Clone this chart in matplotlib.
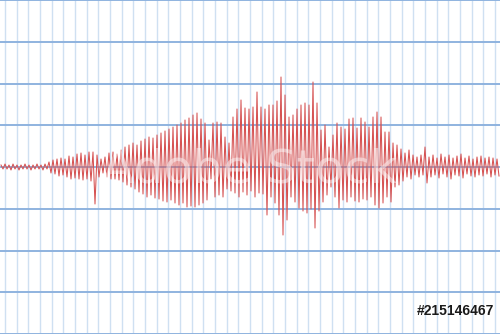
import numpy as np
import matplotlib
matplotlib.use('Agg')
import matplotlib.pyplot as plt

# upward swing of each cycle (pixel-ish amplitude above the baseline)
tops = [2, 3, 2, 3, 2, 2, 3, 2, 2, 3, 2, 3,
        5, 7, 8, 9, 8, 11, 10, 13, 14, 12, 15, 15, 12,
        8, 10, 14, 15, 13, 17, 20, 22, 24, 22, 26, 28, 30, 29, 32,
        34, 36, 38, 40, 42, 44, 47, 49, 52, 54, 48, 44, 27, 44, 45,
        44, 30, 24, 50, 58, 67, 59, 58, 60, 75, 60, 58, 62, 62, 66,
        90, 72, 50, 52, 58, 62, 64, 62, 85, 64, 37, 42, 20, 32, 44,
        40, 38, 48, 49, 39, 49, 45, 40, 50, 55, 50, 35, 35, 24, 22,
        18, 14, 17, 12, 10, 12, 20, 10, 12, 9, 13, 10, 12, 9, 11,
        13, 9, 11, 8, 10, 11, 9, 10, 9, 8]

# downward swing of each cycle
bottoms = [2, 2, 3, 2, 3, 2, 2, 3, 2, 2, 3, 2,
           6, 7, 9, 8, 10, 12, 11, 12, 13, 12, 14, 37, 10,
           6, 10, 12, 12, 13, 15, 18, 20, 22, 25, 27, 30, 28, 31, 32,
           34, 35, 33, 36, 38, 36, 40, 39, 40, 38, 36, 33, 12, 30, 28,
           30, 22, 24, 26, 30, 25, 28, 24, 30, 26, 27, 48, 30, 36, 48,
           68, 53, 30, 35, 41, 44, 46, 42, 61, 44, 35, 28, 20, 30, 41,
           33, 35, 30, 34, 35, 32, 33, 30, 38, 41, 36, 30, 35, 20, 18,
           14, 10, 12, 8, 10, 8, 16, 10, 8, 11, 7, 10, 12, 8, 9,
           11, 7, 9, 10, 8, 9, 7, 10, 8, 9]

signal = []
for t, b in zip(tops, bottoms):
    signal.append(t)
    signal.append(-b)
signal = np.array(signal)
samples = 1 + 2 * np.arange(len(signal))

fig = plt.figure(figsize=(5, 3.34), dpi=100)
ax = fig.add_axes([0, 0, 1, 1])
ax.set_xlim(0, 500)
ax.set_ylim(-167, 167)

# chart paper
for x in 5 + (350 / 30) * np.arange(43):
    ax.axvline(x, color='#cfe0f2', linewidth=1.0, zorder=0)
for y in -167 + (334 / 8) * np.arange(9):
    ax.axhline(y, color='#8fb3df', linewidth=1.4, zorder=1)

ax.plot(samples, signal, color='#d65252', linewidth=0.75, zorder=2)

# stock watermark
ax.text(250, -3, 'Adobe Stock', color='white', alpha=0.45, fontsize=34,
        ha='center', va='center', zorder=3)
ax.text(494, -144, '#215146467', color='#1a1a1a', fontsize=10,
        fontweight='bold', family='Liberation Sans', ha='right', va='center', zorder=4)

ax.axis('off')
fig.savefig('out.png', dpi=100)
